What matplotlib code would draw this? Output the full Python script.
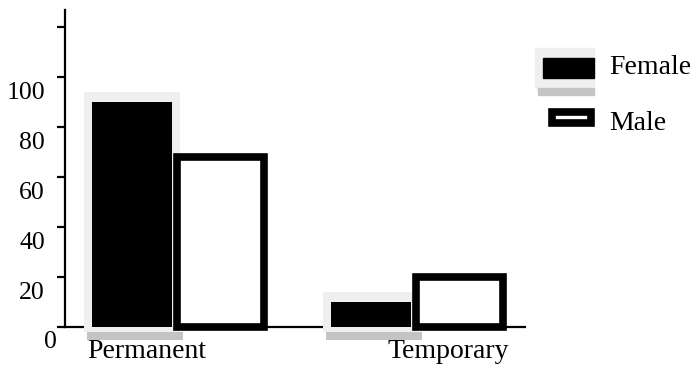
import numpy as np
import matplotlib
matplotlib.use("Agg")
import matplotlib.pyplot as plt
import matplotlib.transforms as mtransforms
from matplotlib.patches import Rectangle

# data
categories = ["Permanent", "Temporary"]
female = [90, 10]
male = [68, 20]
yticks = [0, 20, 40, 60, 80, 100, 120]
ytick_labels = ["", "20", "40", "60", "80", "100", ""]

plt.rcParams["font.family"] = ["Liberation Serif", "DejaVu Serif"]

W, H = 690, 375
fig = plt.figure(figsize=(W / 100, H / 100), dpi=100)
ax = fig.add_axes([65 / W, 1 - 327 / H, 460 / W, 317 / H])

x = np.arange(len(categories))
px = 1 / 239.0            # one pixel in x data units
f_off, f_w = -0.172, 0.335
m_off, m_w = 0.197, 0.364

# grey drop shadow behind the female bars
for xi, v in zip(x, female):
    ax.bar(xi + f_off, v + 4 + 2, width=f_w + 16 * px, bottom=-2,
           color="#efefef", zorder=2.6, clip_on=False)
    ax.bar(xi + f_off + 3 * px, 3.2, width=f_w + 16 * px, bottom=-5.2,
           color="#c4c4c4", zorder=2.6, clip_on=False)

ax.bar(x + f_off, female, width=f_w, color="black", zorder=3, clip_on=False)
ax.bar(x + m_off, male, width=m_w, color="white", edgecolor="black",
       linewidth=5.5, zorder=3, clip_on=False)

ax.set_xlim(-0.452, 1.473)
ax.set_ylim(0, 126.8)

for s in ["top", "right"]:
    ax.spines[s].set_visible(False)
ax.spines["left"].set_linewidth(1.6)
ax.spines["bottom"].set_linewidth(1.6)

ax.set_yticks(yticks)
ax.set_yticklabels(ytick_labels, fontsize=18.5, va="top")
ax.tick_params(axis="y", length=6, width=1.6, pad=8.5)
shift = mtransforms.ScaledTranslation(0, -5 / 100, fig.dpi_scale_trans)
for lab in ax.get_yticklabels():
    lab.set_transform(lab.get_transform() + shift)
ax.annotate("0", xy=(0, 0), xycoords=("axes fraction", "data"),
            xytext=(-6, -3), textcoords="offset points",
            ha="right", va="top", fontsize=18.5)

label_shift = [-0.11, 0.15]
ax.set_xticks(x + np.array(label_shift))
ax.set_xticklabels(categories, fontsize=20)
ax.tick_params(axis="x", length=0, pad=9)

# legend drawn by hand
def fx(p):
    return p / W

def fy(p):
    return 1 - p / H

fig.patches.append(Rectangle((fx(535), fy(88)), fx(59), 40 / H,
                             transform=fig.transFigure, color="#efefef"))
fig.patches.append(Rectangle((fx(538), fy(95)), fx(56), 7 / H,
                             transform=fig.transFigure, color="#c4c4c4"))
fig.patches.append(Rectangle((fx(543), fy(78)), fx(51), 20 / H,
                             transform=fig.transFigure, color="black"))
fig.patches.append(Rectangle((fx(551.5), fy(122.5)), fx(39), 11 / H,
                             transform=fig.transFigure, facecolor="white",
                             edgecolor="black", linewidth=5.5))
fig.text(fx(609), fy(67), "Female", fontsize=20, va="center", ha="left")
fig.text(fx(609), fy(124), "Male", fontsize=20, va="center", ha="left")

fig.savefig("out.png", dpi=100)
